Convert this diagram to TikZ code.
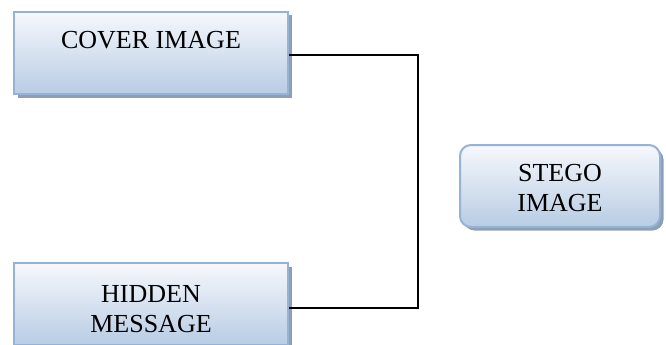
\documentclass[tikz,border=0pt]{standalone}
\usepackage{fontspec}
\setmainfont{Liberation Serif}
\usetikzlibrary{shadows}
\definecolor{boxborder}{RGB}{149,179,215}
\definecolor{boxtop}{RGB}{246,248,252}
\definecolor{boxbottom}{RGB}{184,204,228}
\definecolor{shadowc}{RGB}{143,158,180}
\tikzset{
  blockbox/.style={draw=boxborder, line width=2pt, top color=boxtop, bottom color=boxbottom,
    minimum width=274pt, minimum height=82pt, inner sep=0pt,
    general shadow={shadow xshift=3.5pt, shadow yshift=-3.5pt, fill=shadowc}},
  roundbox/.style={blockbox, rounded corners=11pt, minimum width=200pt},
  blocktext/.style={font=\fontsize{26}{30}\selectfont, align=center, inner sep=0pt},
  conn/.style={draw=black, line width=1.6pt}
}
\begin{document}
\begin{tikzpicture}[x=1pt,y=-1pt]
\useasboundingbox (0,0) rectangle (666,345);
\node[blockbox] (cover) at (151,53) {};
\node[blockbox] (hidden) at (151,304) {};
\node[roundbox] (stego) at (560,186) {};
\node[blocktext] (covert) at (151,40.5) {COVER IMAGE};
\node[blocktext] (hiddent) at (151,309) {HIDDEN\\MESSAGE};
\node[blocktext] (stegot) at (560,188) {STEGO\\IMAGE};
\coordinate (jt) at (418,55);
\coordinate (jb) at (418,308);
\draw[conn] (cover.east |- jt) -- (jt) -- (jb) -- (hidden.east |- jb);
\end{tikzpicture}
\end{document}
